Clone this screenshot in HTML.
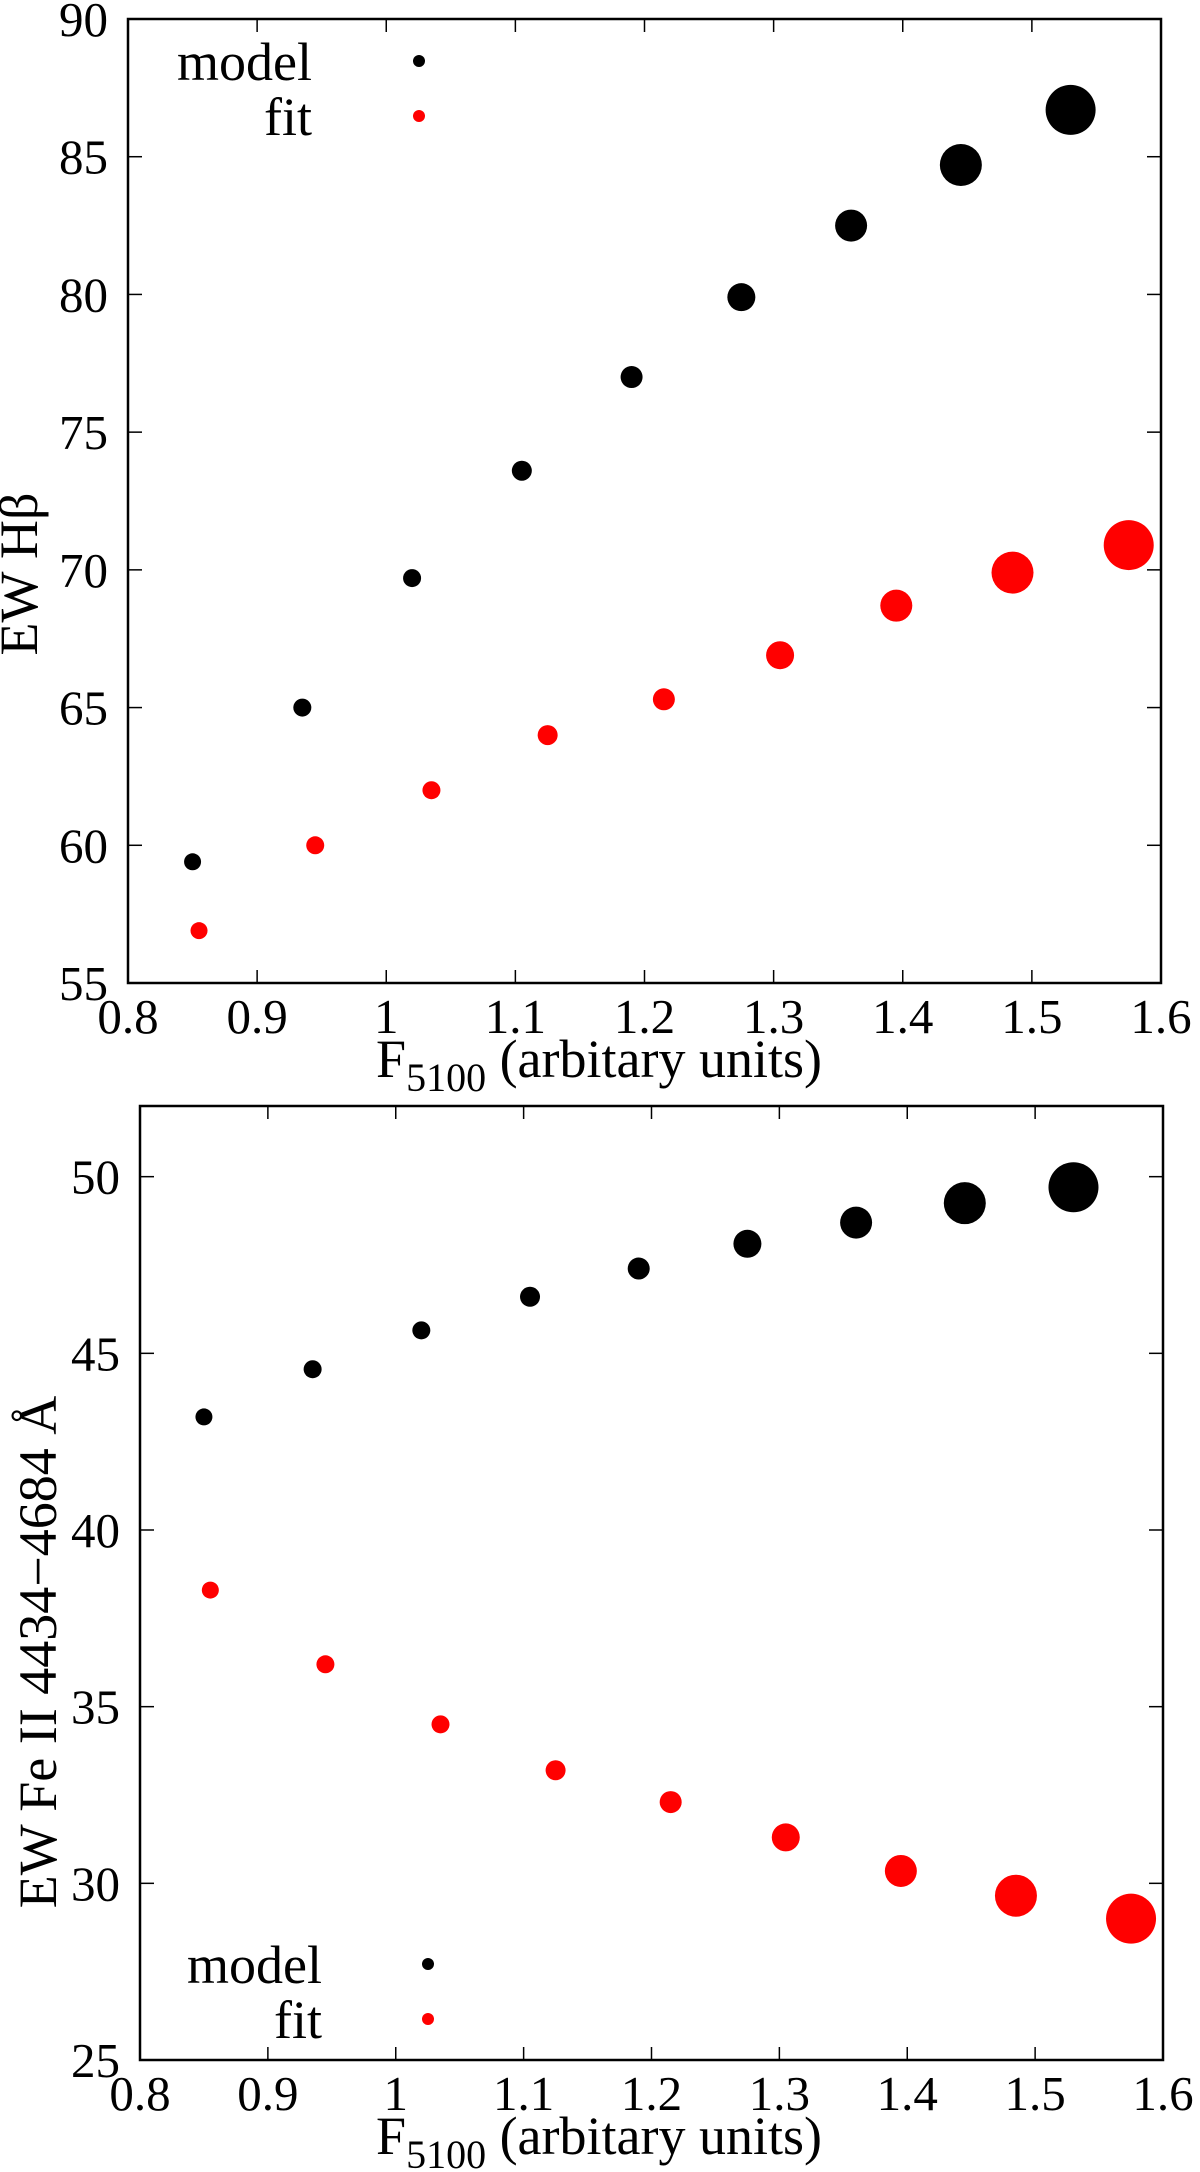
<!DOCTYPE html>
<html><head><meta charset="utf-8"><style>
html,body{margin:0;padding:0;background:#fff;}
svg{display:block;font-family:"Liberation Serif",serif;}
</style></head><body>
<svg id="chart" width="1200" height="2172" viewBox="0 0 1200 2172" xmlns="http://www.w3.org/2000/svg"></svg>
<script>
const xTicks = [0.8,0.9,1,1.1,1.2,1.3,1.4,1.5,1.6];
const xTickLabels = ["0.8","0.9","1","1.1","1.2","1.3","1.4","1.5","1.6"];
const topYTicks = [55,60,65,70,75,80,85,90];
const botYTicks = [25,30,35,40,45,50];
const modelX = [0.85,0.935,1.02,1.105,1.19,1.275,1.36,1.445,1.53];
const fitX = [0.855,0.945,1.035,1.125,1.215,1.305,1.395,1.485,1.575];
const pointSizes = [8.5,9,9,10,11,14,16,21,25];
const topModelY = [59.4,65.0,69.7,73.6,77.0,79.9,82.5,84.7,86.7];
const topFitY = [56.9,60.0,62.0,64.0,65.3,66.9,68.7,69.9,70.9];
const botModelY = [43.2,44.55,45.65,46.6,47.4,48.1,48.7,49.25,49.7];
const botFitY = [38.3,36.2,34.5,33.2,32.3,31.3,30.35,29.65,29.0];

const NS="http://www.w3.org/2000/svg";
const svg=document.getElementById('chart');
function mk(tag,attrs,parent){const e=document.createElementNS(NS,tag);for(const k in attrs)e.setAttribute(k,attrs[k]);(parent||svg).appendChild(e);return e;}

function panel(p){
  const g=mk('g',{});
  
  
  const sx=v=>p.L+(v-0.8)/(1.6-0.8)*(p.R-p.L);
  const sy=v=>p.B-(v-p.ymin)/(p.ymax-p.ymin)*(p.B-p.T);
  const frame=mk('rect',{x:p.L,y:p.T,width:p.R-p.L,height:p.B-p.T,fill:'none',stroke:'#000','stroke-width':2.5},g);
  
  
  xTicks.forEach((v,i)=>{
    const x=sx(v);
    mk('line',{x1:x,y1:p.B,x2:x,y2:p.B-13,stroke:'#000','stroke-width':1.5},g);
    mk('line',{x1:x,y1:p.T,x2:x,y2:p.T+13,stroke:'#000','stroke-width':1.5},g);
    const t=mk('text',{x:x,y:p.B+50,'font-size':49,'text-anchor':'middle'},g);
    t.textContent=xTickLabels[i];
    
    
  });
  p.yTicks.forEach(v=>{
    const y=sy(v);
    mk('line',{x1:p.L,y1:y,x2:p.L+14,y2:y,stroke:'#000','stroke-width':1.5},g);
    mk('line',{x1:p.R,y1:y,x2:p.R-14,y2:y,stroke:'#000','stroke-width':1.5},g);
    const t=mk('text',{x:p.L-20,y:y+17,'font-size':49,'text-anchor':'end'},g);
    t.textContent=String(v);
    
    
  });
  const xt=mk('text',{x:599,y:p.B+94,'font-size':54,'text-anchor':'middle'},g);
  xt.innerHTML='F<tspan font-size="40" dy="14">5100</tspan><tspan dy="-14"> (arbitary units)</tspan>';
  
  
  const yt=mk('text',{x:0,y:0,'font-size':54,'text-anchor':'middle',transform:`translate(${p.ylx},${p.yly}) rotate(-90)`},g);
  yt.textContent=p.ylabel;
  
  
  const series=[[modelX,p.model,'#000','model'],[fitX,p.fit,'#ff0000','fit']];
  series.forEach(([xs,ys,col,nm])=>{
    xs.forEach((xv,i)=>{
      const c=mk('circle',{cx:sx(xv),cy:sy(ys[i]),r:pointSizes[i],fill:col},g);
      
      
    });
  });
  [['model','#000',0],['fit','#ff0000',1]].forEach(([lab,col,k])=>{
    const dy=p.legY+k*55;
    const t=mk('text',{x:p.legTx,y:dy+19,'font-size':54,'text-anchor':'end'},g);
    t.textContent=lab;
    
    
    const c=mk('circle',{cx:p.legDx,cy:dy,r:6,fill:col},g);
    
    
  });
}

panel({name:'hbeta-panel',L:128,R:1161,T:19,B:983,ymin:55,ymax:90,yTicks:topYTicks,
  model:topModelY,fit:topFitY,ylabel:'EW Hβ',ylx:37,yly:574,legY:61,legTx:312,legDx:419});
panel({name:'feii-panel',L:140,R:1163,T:1106,B:2060,ymin:25,ymax:52,yTicks:botYTicks,
  model:botModelY,fit:botFitY,ylabel:'EW Fe II 4434−4684 Å',ylx:56,yly:1652,legY:1964,legTx:322,legDx:428});
</script>
</body></html>
